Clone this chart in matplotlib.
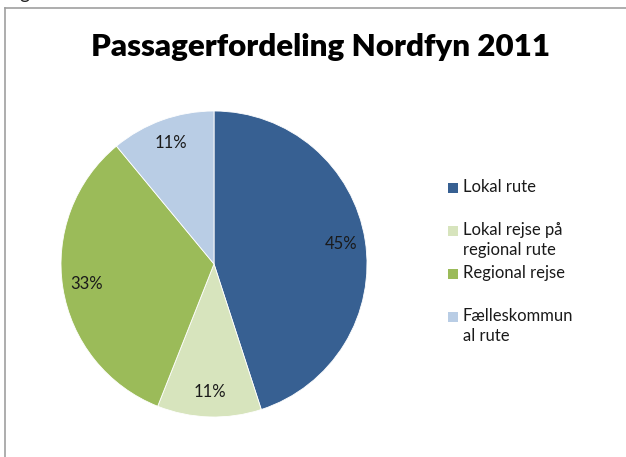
import matplotlib
matplotlib.use("Agg")
import matplotlib.pyplot as plt
from matplotlib.patches import Rectangle
from matplotlib.lines import Line2D

title = "Passagerfordeling Nordfyn 2011"
categories = ["Lokal rute", "Lokal rejse på\nregional rute", "Regional rejse", "Fælleskommun\nal rute"]
values = [45, 11, 33, 11]
colors = ["#376092", "#D7E4BD", "#9BBB59", "#B9CDE5"]

W, H = 626, 457
fig = plt.figure(figsize=(W / 100, H / 100), dpi=100)
font = ["Lato", "DejaVu Sans"]

def fx(px):
    return px / W

def fy(py):
    return 1 - py / H

# outer frame (chart area border)
fig.add_artist(Line2D([fx(5), fx(5)], [fy(8), 0], color="#a0a0a0", lw=1.2, transform=fig.transFigure))
fig.add_artist(Line2D([fx(5), 1], [fy(8), fy(8)], color="#a0a0a0", lw=1.2, transform=fig.transFigure))
# cropped text fragment above the frame (cut off in the reference as well)
fig.text(fx(24), fy(-6), "g", ha="center", va="center", fontsize=14, family=font, color="#222222")

cx, cy, r = 214, 264, 153
ax = fig.add_axes([fx(cx - r), fy(cy + r), 2 * r / W, 2 * r / H])
wedges, texts, autotexts = ax.pie(values, colors=colors, startangle=90, counterclock=False,
                                  autopct="%.0f%%", pctdistance=0.84,
                                  wedgeprops=dict(edgecolor="white", linewidth=0.6),
                                  textprops=dict(fontsize=12, family=font, color="#1a1a1a"))
ax.set_xlim(-1, 1)
ax.set_ylim(-1, 1)
ax.set_aspect("equal")

fig.text(fx(321), fy(47), title, ha="center", va="center", fontsize=22.5, fontweight="heavy",
         family=font, color="#000000")

# legend
ly0, dy = 188, 43
for i, (lab, col) in enumerate(zip(categories, colors)):
    y = ly0 + i * dy
    fig.add_artist(Rectangle((fx(448), fy(y + 5)), 10 / W, 10 / H, facecolor=col,
                             edgecolor="none", transform=fig.transFigure))
    fig.text(fx(463), fy(y - 9), lab, ha="left", va="top", fontsize=12, family=font,
             color="#1a1a1a", linespacing=1.3)

fig.savefig("out.png", dpi=100)
